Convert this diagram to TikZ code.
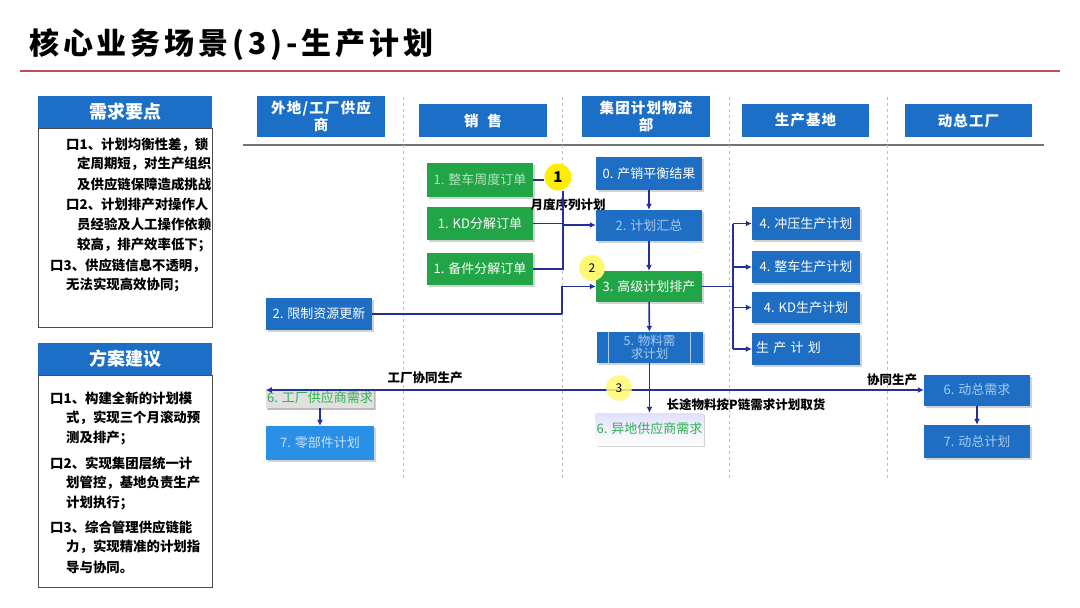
\documentclass[tikz,border=0pt]{standalone}
\usepackage{fontspec}
\setmainfont{Noto Sans CJK SC}
\usetikzlibrary{arrows.meta,shadows,calc}
\definecolor{hblue}{HTML}{1C6FC6}
\definecolor{nblue}{HTML}{1E6EC4}
\definecolor{ngreen}{HTML}{22A546}
\definecolor{arrc}{HTML}{23309A}
\definecolor{lblue}{HTML}{2A8FE6}
\definecolor{fadeb}{HTML}{A9CBEE}
\definecolor{fadeg}{HTML}{B5E3BF}
\definecolor{titlered}{HTML}{C0504D}
\definecolor{txtgreen}{HTML}{2DB34A}
\tikzset{
  x=1pt,y=-1pt,
  hdr/.style={fill=hblue,text=white,font=\fontsize{14.5}{16.5}\selectfont\bfseries\addfontfeature{LetterSpace=8},minimum width=128pt,inner sep=1pt,align=center},
  panelhdr/.style={fill=hblue,text=white,font=\fontsize{18}{20}\selectfont\bfseries,minimum width=174pt,minimum height=32pt,inner sep=0pt},
  bx/.style={minimum width=106pt,minimum height=32pt,inner sep=1pt,align=center,font=\fontsize{13}{14.5}\selectfont,
     drop shadow={shadow xshift=2pt,shadow yshift=-2pt,fill=black!35}},
  bbox/.style={bx,fill=nblue,text=white},
  bboxf/.style={bx,fill=nblue,text=fadeb},
  gbox/.style={bx,fill=ngreen,text=white},
  gboxf/.style={bx,fill=ngreen,text=fadeg},
  lbl/.style={font=\fontsize{12.5}{14}\selectfont\bfseries,text=black,inner sep=0pt},
  ptxt/.style={anchor=west,font=\fontsize{13.4}{15}\selectfont\bfseries,inner sep=0pt},
  arr/.style={draw=arrc,line width=1.6pt,-{Latex[length=6pt,width=6pt]}},
  ln/.style={draw=arrc,line width=1.6pt},
  badge/.style={circle,minimum size=27pt,inner sep=0pt},
  lanesep/.style={draw=black!25,dashed,line width=0.8pt}
}
\begin{document}
\begin{tikzpicture}
\useasboundingbox (0,0) rectangle (1080,608);
\fill[white] (0,0) rectangle (1080,608);
% title
\node[anchor=west,inner sep=0pt,font=\fontsize{30}{32}\selectfont\bfseries\addfontfeature{LetterSpace=13}] (title) at (29,45) {核心业务场景(3)-生产计划};
\draw[titlered,line width=1.5pt] (20,71) -- (1060,71);

% left panels
\node[panelhdr] (ph1) at (125,112) {需求要点};
\draw[black!70,line width=1pt] (38,128) rectangle (212,327);
\node[ptxt] (t1) at (66,145) {口1、计划均衡性差，锁};
\node[ptxt] (t2) at (77,164) {定周期短，对生产组织};
\node[ptxt] (t3) at (77,184) {及供应链保障造成挑战};
\node[ptxt] (t4) at (66,204) {口2、计划排产对操作人};
\node[ptxt] (t5) at (77,224) {员经验及人工操作依赖};
\node[ptxt] (t6) at (77,245) {较高，排产效率低下；};
\node[ptxt] (t7) at (50,266) {口3、供应链信息不透明，};
\node[ptxt] (t8) at (66,285) {无法实现高效协同；};

\node[panelhdr] (ph2) at (125,359) {方案建议};
\draw[black!70,line width=1pt] (38,375) rectangle (212,587);
\node[ptxt] (u1) at (50,398) {口1、构建全新的计划模};
\node[ptxt] (u2) at (66,418) {式，实现三个月滚动预};
\node[ptxt] (u3) at (66,438) {测及排产；};
\node[ptxt] (u4) at (50,463) {口2、实现集团层统一计};
\node[ptxt] (u5) at (66,483) {划管控，基地负责生产};
\node[ptxt] (u6) at (66,503) {计划执行；};
\node[ptxt] (u7) at (50,527) {口3、综合管理供应链能};
\node[ptxt] (u8) at (66,547) {力，实现精准的计划指};
\node[ptxt] (u9) at (66,567) {导与协同。};

% swimlane headers
\node[hdr,minimum height=41pt] (h1) at (321,116.5) {外地/工厂供应\\商};
\node[hdr,minimum height=33pt] (h2) at (483,120.5) {销\ \ 售};
\node[hdr,minimum height=41pt] (h3) at (646,116.5) {集团计划物流\\部};
\node[hdr,minimum height=33pt,minimum width=127pt] (h4) at (805.5,120.5) {生产基地};
\node[hdr,minimum height=33pt,minimum width=127pt] (h5) at (968.5,120.5) {动总工厂};
\draw[black!55,line width=1.5pt] (243,145) -- (1044,145);
\foreach \xx in {403,562,729,887} \draw[lanesep] (\xx,97) -- (\xx,480);

% nodes
\node[gboxf,minimum height=34pt] (s1) at (480,180) {1. 整车周度订单};
\node[gbox,minimum height=33pt] (s2) at (480,223.5) {1. KD分解订单};
\node[gbox] (s3) at (480,269) {1. 备件分解订单};
\node[bbox,minimum height=33pt] (p0) at (649,173.5) {0. 产销平衡结果};
\node[bboxf,minimum height=31pt] (p2) at (649,225.5) {2. 计划汇总};
\node[gbox,minimum height=31pt] (p3) at (649,286.5) {3. 高级计划排产};
\node[bbox] (r2) at (319,314) {2. 限制资源更新};
\node[bboxf,minimum height=31pt,font=\fontsize{12.5}{13.5}\selectfont] (p5) at (649.5,347.5) {5. 物料需\\求计划};
\draw[fadeb,line width=1pt] ($(p5.north west)+(12,0)$) -- ($(p5.south west)+(12,0)$)
  ($(p5.north east)+(-12,0)$) -- ($(p5.south east)+(-12,0)$);
\node[bbox,minimum width=108pt,minimum height=33pt] (b1) at (806,223.5) {4. 冲压生产计划};
\node[bbox,minimum width=108pt] (b2) at (806,267) {4. 整车生产计划};
\node[bbox,minimum width=108pt,minimum height=31pt] (b3) at (806,307.5) {4. KD生产计划};
\node[bbox,minimum width=108pt,text width=100pt,align=left] (b4) at (806,349) {\\[-6pt]生 产 计 划};
\node[bx,fill=black!12,text=txtgreen,minimum width=108pt,minimum height=19pt,drop shadow={shadow xshift=1pt,shadow yshift=-2pt,fill=black!35}] (f6) at (320,398) {6. 工厂供应商需求};
\node[bx,fill=lblue,text=fadeb!60!white,minimum width=108pt,minimum height=34pt] (f7) at (320,443) {7. 零部件计划};
\node[bx,top color=blue!12,bottom color=white,text=txtgreen,minimum width=107pt] (p6) at (649.5,429) {\\[-4pt]6. 异地供应商需求};
\node[bboxf,minimum height=31pt] (d6) at (977,390) {6. 动总需求};
\node[bboxf,minimum height=33pt] (d7) at (977,441.5) {7. 动总计划};

% badges
\node[badge,fill=yellow!95!orange] (c1) at (558,177) {\fontsize{15}{16}\selectfont\bfseries 1};
\node[badge,fill=yellow!55,minimum size=26pt] (c2) at (592,268) {\fontsize{12}{13}\selectfont 2};

% labels
\node[lbl] (l1) at (568,205) {月度序列计划};
\node[lbl] (l2) at (425,378) {工厂协同生产};
\node[lbl] (l3) at (746,405) {长途物料按P链需求计划取货};
\node[lbl] (l4) at (892,380) {协同生产};

% connectors
\coordinate (j1) at (563,225);
\coordinate (jr) at (562,314);
\coordinate (jb) at (733,286.5);
\coordinate (j3) at (649,390);
\draw[ln] (s1.east) -- (s1.east -| c1.west);
\draw[ln] (c1.south -| j1) -- (j1 |- s3.east) -- (s3.east);
\draw[ln] (s2.east) -- (s2.east -| j1);
\draw[arr] (j1) -- (p2.west |- j1);
\draw[ln] (r2.east) -- (r2.east -| jr);
\draw[arr] (r2.east -| jr) |- (p3.west);
\draw[arr] (p0) -- (p2);
\draw[arr] (p2) -- (p3);
\draw[arr] (p3) -- (p5);
\draw[arr] (p5) -- (p6);
\draw[ln] (p3.east) -- (p3.east -| jb);
\draw[ln] (jb |- b1.west) -- (jb |- b4.west);
\draw[arr] (jb |- b1.west) -- (b1.west);
\draw[arr] (jb |- b2.west) -- (b2.west);
\draw[arr] (jb |- b3.west) -- (b3.west);
\draw[arr] (jb |- b4.west) -- (b4.west);
\draw[arr] (j3) -- (j3 -| f6.west);
\draw[arr] (j3) -- (d6.west);
\draw[arr] (f6) -- (f7);
\draw[arr] (d6) -- (d7);
\node[badge,fill=yellow!55,minimum size=26pt,fill opacity=0.85,text opacity=1] (c3) at (619,388) {\fontsize{12}{13}\selectfont 3};
\end{tikzpicture}
\end{document}
